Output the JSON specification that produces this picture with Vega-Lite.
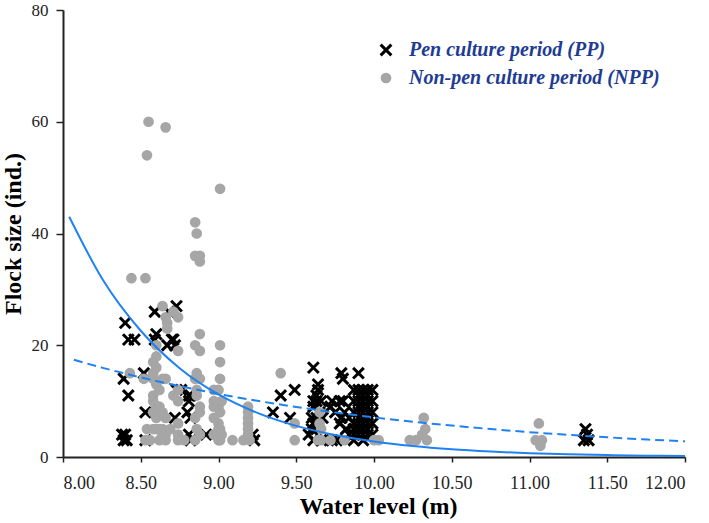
{
  "$schema": "https://vega.github.io/schema/vega-lite/v6.json",
  "width": 622,
  "height": 447,
  "autosize": {"type": "none"},
  "padding": {"left": 63, "top": 10, "right": 24, "bottom": 66},
  "background": "white",
  "config": {
    "view": {"stroke": null},
    "font": "Liberation Serif",
    "axis": {
      "labelFont": "Liberation Serif",
      "titleFont": "Liberation Serif",
      "labelColor": "#222222",
      "titleColor": "#000000",
      "domainColor": "#222222",
      "tickColor": "#222222",
      "grid": false
    },
    "legend": {
      "orient": "none", "legendX": 313, "legendY": 30, "title": null, "padding": 0,
      "labelFont": "Liberation Serif", "labelFontSize": 20, "labelFontWeight": "bold",
      "labelFontStyle": "italic", "labelColor": "#1e3c94", "labelLimit": 400,
      "symbolSize": 115, "symbolStrokeWidth": 3, "rowPadding": 4, "labelOffset": 13
    }
  },
  "datasets": {
    "flocks": [
      {"level": 8.40, "flock": 24, "period": "PP"},
      {"level": 8.42, "flock": 21, "period": "PP"},
      {"level": 8.46, "flock": 21, "period": "PP"},
      {"level": 8.39, "flock": 14, "period": "PP"},
      {"level": 8.52, "flock": 15, "period": "PP"},
      {"level": 8.42, "flock": 11, "period": "PP"},
      {"level": 8.53, "flock": 8, "period": "PP"},
      {"level": 8.38, "flock": 4, "period": "PP"},
      {"level": 8.40, "flock": 4, "period": "PP"},
      {"level": 8.39, "flock": 3, "period": "PP"},
      {"level": 8.41, "flock": 3, "period": "PP"},
      {"level": 8.53, "flock": 3, "period": "PP"},
      {"level": 8.59, "flock": 26, "period": "PP"},
      {"level": 8.60, "flock": 22, "period": "PP"},
      {"level": 8.59, "flock": 21, "period": "PP"},
      {"level": 8.67, "flock": 20, "period": "PP"},
      {"level": 8.70, "flock": 21, "period": "PP"},
      {"level": 8.71, "flock": 21, "period": "PP"},
      {"level": 8.72, "flock": 20, "period": "PP"},
      {"level": 8.73, "flock": 27, "period": "PP"},
      {"level": 8.68, "flock": 26, "period": "PP"},
      {"level": 8.73, "flock": 12, "period": "PP"},
      {"level": 8.76, "flock": 12, "period": "PP"},
      {"level": 8.72, "flock": 7, "period": "PP"},
      {"level": 8.81, "flock": 11, "period": "PP"},
      {"level": 8.82, "flock": 11, "period": "PP"},
      {"level": 8.81, "flock": 10, "period": "PP"},
      {"level": 8.80, "flock": 8, "period": "PP"},
      {"level": 8.82, "flock": 7, "period": "PP"},
      {"level": 8.81, "flock": 4, "period": "PP"},
      {"level": 8.82, "flock": 3, "period": "PP"},
      {"level": 8.92, "flock": 4, "period": "PP"},
      {"level": 9.22, "flock": 4, "period": "PP"},
      {"level": 9.23, "flock": 3, "period": "PP"},
      {"level": 9.35, "flock": 8, "period": "PP"},
      {"level": 9.40, "flock": 11, "period": "PP"},
      {"level": 9.46, "flock": 7, "period": "PP"},
      {"level": 9.49, "flock": 12, "period": "PP"},
      {"level": 9.61, "flock": 16, "period": "PP"},
      {"level": 9.64, "flock": 13, "period": "PP"},
      {"level": 9.64, "flock": 12, "period": "PP"},
      {"level": 9.63, "flock": 11, "period": "PP"},
      {"level": 9.61, "flock": 10, "period": "PP"},
      {"level": 9.63, "flock": 10, "period": "PP"},
      {"level": 9.66, "flock": 10, "period": "PP"},
      {"level": 9.61, "flock": 9, "period": "PP"},
      {"level": 9.65, "flock": 8, "period": "PP"},
      {"level": 9.60, "flock": 7, "period": "PP"},
      {"level": 9.63, "flock": 7, "period": "PP"},
      {"level": 9.67, "flock": 7, "period": "PP"},
      {"level": 9.61, "flock": 6, "period": "PP"},
      {"level": 9.60, "flock": 5, "period": "PP"},
      {"level": 9.63, "flock": 5, "period": "PP"},
      {"level": 9.58, "flock": 4, "period": "PP"},
      {"level": 9.61, "flock": 3, "period": "PP"},
      {"level": 9.66, "flock": 3, "period": "PP"},
      {"level": 9.73, "flock": 10, "period": "PP"},
      {"level": 9.72, "flock": 9, "period": "PP"},
      {"level": 9.75, "flock": 8, "period": "PP"},
      {"level": 9.73, "flock": 3, "period": "PP"},
      {"level": 9.76, "flock": 3, "period": "PP"},
      {"level": 9.79, "flock": 15, "period": "PP"},
      {"level": 9.80, "flock": 14, "period": "PP"},
      {"level": 9.78, "flock": 10, "period": "PP"},
      {"level": 9.80, "flock": 10, "period": "PP"},
      {"level": 9.81, "flock": 8, "period": "PP"},
      {"level": 9.79, "flock": 7, "period": "PP"},
      {"level": 9.78, "flock": 6, "period": "PP"},
      {"level": 9.82, "flock": 5, "period": "PP"},
      {"level": 9.84, "flock": 7, "period": "PP"},
      {"level": 9.84, "flock": 4, "period": "PP"},
      {"level": 9.87, "flock": 12, "period": "PP"},
      {"level": 9.87, "flock": 10, "period": "PP"},
      {"level": 9.87, "flock": 8, "period": "PP"},
      {"level": 9.87, "flock": 6, "period": "PP"},
      {"level": 9.87, "flock": 5, "period": "PP"},
      {"level": 9.87, "flock": 4, "period": "PP"},
      {"level": 9.87, "flock": 3, "period": "PP"},
      {"level": 9.90, "flock": 15, "period": "PP"},
      {"level": 9.90, "flock": 12, "period": "PP"},
      {"level": 9.90, "flock": 11, "period": "PP"},
      {"level": 9.90, "flock": 10, "period": "PP"},
      {"level": 9.90, "flock": 9, "period": "PP"},
      {"level": 9.90, "flock": 8, "period": "PP"},
      {"level": 9.90, "flock": 7, "period": "PP"},
      {"level": 9.90, "flock": 6, "period": "PP"},
      {"level": 9.90, "flock": 5, "period": "PP"},
      {"level": 9.90, "flock": 4, "period": "PP"},
      {"level": 9.93, "flock": 12, "period": "PP"},
      {"level": 9.93, "flock": 11, "period": "PP"},
      {"level": 9.93, "flock": 10, "period": "PP"},
      {"level": 9.93, "flock": 9, "period": "PP"},
      {"level": 9.93, "flock": 8, "period": "PP"},
      {"level": 9.93, "flock": 7, "period": "PP"},
      {"level": 9.93, "flock": 6, "period": "PP"},
      {"level": 9.93, "flock": 5, "period": "PP"},
      {"level": 9.93, "flock": 4, "period": "PP"},
      {"level": 9.93, "flock": 3, "period": "PP"},
      {"level": 9.96, "flock": 12, "period": "PP"},
      {"level": 9.96, "flock": 11, "period": "PP"},
      {"level": 9.96, "flock": 10, "period": "PP"},
      {"level": 9.96, "flock": 9, "period": "PP"},
      {"level": 9.96, "flock": 8, "period": "PP"},
      {"level": 9.96, "flock": 7, "period": "PP"},
      {"level": 9.96, "flock": 6, "period": "PP"},
      {"level": 9.96, "flock": 5, "period": "PP"},
      {"level": 9.96, "flock": 4, "period": "PP"},
      {"level": 9.99, "flock": 12, "period": "PP"},
      {"level": 9.99, "flock": 10, "period": "PP"},
      {"level": 9.99, "flock": 8, "period": "PP"},
      {"level": 9.99, "flock": 6, "period": "PP"},
      {"level": 9.99, "flock": 4, "period": "PP"},
      {"level": 11.35, "flock": 3, "period": "PP"},
      {"level": 11.38, "flock": 3, "period": "PP"},
      {"level": 11.37, "flock": 4, "period": "PP"},
      {"level": 11.36, "flock": 5, "period": "PP"},

      {"level": 8.55, "flock": 60, "period": "NPP"},
      {"level": 8.66, "flock": 59, "period": "NPP"},
      {"level": 8.54, "flock": 54, "period": "NPP"},
      {"level": 9.01, "flock": 48, "period": "NPP"},
      {"level": 8.85, "flock": 42, "period": "NPP"},
      {"level": 8.86, "flock": 40, "period": "NPP"},
      {"level": 8.85, "flock": 36, "period": "NPP"},
      {"level": 8.88, "flock": 36, "period": "NPP"},
      {"level": 8.88, "flock": 35, "period": "NPP"},
      {"level": 8.44, "flock": 32, "period": "NPP"},
      {"level": 8.53, "flock": 32, "period": "NPP"},
      {"level": 8.43, "flock": 15, "period": "NPP"},
      {"level": 8.52, "flock": 14, "period": "NPP"},
      {"level": 8.53, "flock": 3, "period": "NPP"},
      {"level": 8.54, "flock": 5, "period": "NPP"},
      {"level": 8.56, "flock": 3, "period": "NPP"},
      {"level": 8.58, "flock": 17, "period": "NPP"},
      {"level": 8.58, "flock": 15, "period": "NPP"},
      {"level": 8.58, "flock": 14, "period": "NPP"},
      {"level": 8.58, "flock": 11, "period": "NPP"},
      {"level": 8.58, "flock": 10, "period": "NPP"},
      {"level": 8.58, "flock": 8, "period": "NPP"},
      {"level": 8.58, "flock": 5, "period": "NPP"},
      {"level": 8.60, "flock": 20, "period": "NPP"},
      {"level": 8.60, "flock": 18, "period": "NPP"},
      {"level": 8.60, "flock": 16, "period": "NPP"},
      {"level": 8.60, "flock": 13, "period": "NPP"},
      {"level": 8.60, "flock": 9, "period": "NPP"},
      {"level": 8.60, "flock": 7, "period": "NPP"},
      {"level": 8.60, "flock": 5, "period": "NPP"},
      {"level": 8.62, "flock": 12, "period": "NPP"},
      {"level": 8.62, "flock": 9, "period": "NPP"},
      {"level": 8.62, "flock": 5, "period": "NPP"},
      {"level": 8.62, "flock": 3, "period": "NPP"},
      {"level": 8.64, "flock": 27, "period": "NPP"},
      {"level": 8.64, "flock": 14, "period": "NPP"},
      {"level": 8.64, "flock": 8, "period": "NPP"},
      {"level": 8.64, "flock": 5, "period": "NPP"},
      {"level": 8.64, "flock": 4, "period": "NPP"},
      {"level": 8.66, "flock": 25, "period": "NPP"},
      {"level": 8.66, "flock": 14, "period": "NPP"},
      {"level": 8.66, "flock": 7, "period": "NPP"},
      {"level": 8.66, "flock": 4, "period": "NPP"},
      {"level": 8.66, "flock": 3, "period": "NPP"},
      {"level": 8.67, "flock": 24, "period": "NPP"},
      {"level": 8.67, "flock": 23, "period": "NPP"},
      {"level": 8.69, "flock": 5, "period": "NPP"},
      {"level": 8.71, "flock": 26, "period": "NPP"},
      {"level": 8.71, "flock": 11, "period": "NPP"},
      {"level": 8.74, "flock": 25, "period": "NPP"},
      {"level": 8.74, "flock": 19, "period": "NPP"},
      {"level": 8.74, "flock": 12, "period": "NPP"},
      {"level": 8.74, "flock": 10, "period": "NPP"},
      {"level": 8.74, "flock": 6, "period": "NPP"},
      {"level": 8.74, "flock": 4, "period": "NPP"},
      {"level": 8.74, "flock": 3, "period": "NPP"},
      {"level": 8.78, "flock": 3, "period": "NPP"},
      {"level": 8.85, "flock": 20, "period": "NPP"},
      {"level": 8.85, "flock": 14, "period": "NPP"},
      {"level": 8.85, "flock": 7, "period": "NPP"},
      {"level": 8.85, "flock": 3, "period": "NPP"},
      {"level": 8.86, "flock": 15, "period": "NPP"},
      {"level": 8.86, "flock": 12, "period": "NPP"},
      {"level": 8.86, "flock": 11, "period": "NPP"},
      {"level": 8.86, "flock": 5, "period": "NPP"},
      {"level": 8.88, "flock": 22, "period": "NPP"},
      {"level": 8.88, "flock": 19, "period": "NPP"},
      {"level": 8.88, "flock": 14, "period": "NPP"},
      {"level": 8.88, "flock": 9, "period": "NPP"},
      {"level": 8.88, "flock": 8, "period": "NPP"},
      {"level": 8.88, "flock": 4, "period": "NPP"},
      {"level": 8.97, "flock": 12, "period": "NPP"},
      {"level": 8.97, "flock": 10, "period": "NPP"},
      {"level": 8.97, "flock": 9, "period": "NPP"},
      {"level": 8.97, "flock": 7, "period": "NPP"},
      {"level": 8.97, "flock": 4, "period": "NPP"},
      {"level": 9.00, "flock": 12, "period": "NPP"},
      {"level": 9.00, "flock": 9, "period": "NPP"},
      {"level": 9.00, "flock": 6, "period": "NPP"},
      {"level": 9.00, "flock": 5, "period": "NPP"},
      {"level": 9.00, "flock": 3, "period": "NPP"},
      {"level": 9.01, "flock": 20, "period": "NPP"},
      {"level": 9.01, "flock": 17, "period": "NPP"},
      {"level": 9.01, "flock": 14, "period": "NPP"},
      {"level": 9.01, "flock": 8, "period": "NPP"},
      {"level": 9.01, "flock": 5, "period": "NPP"},
      {"level": 9.01, "flock": 3, "period": "NPP"},
      {"level": 9.02, "flock": 10, "period": "NPP"},
      {"level": 9.02, "flock": 4, "period": "NPP"},
      {"level": 9.09, "flock": 3, "period": "NPP"},
      {"level": 9.16, "flock": 3, "period": "NPP"},
      {"level": 9.19, "flock": 9, "period": "NPP"},
      {"level": 9.19, "flock": 8, "period": "NPP"},
      {"level": 9.19, "flock": 7, "period": "NPP"},
      {"level": 9.19, "flock": 6, "period": "NPP"},
      {"level": 9.19, "flock": 5, "period": "NPP"},
      {"level": 9.19, "flock": 4, "period": "NPP"},
      {"level": 9.20, "flock": 3, "period": "NPP"},
      {"level": 9.40, "flock": 15, "period": "NPP"},
      {"level": 9.49, "flock": 6, "period": "NPP"},
      {"level": 9.49, "flock": 3, "period": "NPP"},
      {"level": 9.65, "flock": 8, "period": "NPP"},
      {"level": 9.65, "flock": 6, "period": "NPP"},
      {"level": 9.66, "flock": 5, "period": "NPP"},
      {"level": 9.66, "flock": 3, "period": "NPP"},
      {"level": 9.64, "flock": 3, "period": "NPP"},
      {"level": 9.72, "flock": 3, "period": "NPP"},
      {"level": 9.81, "flock": 3, "period": "NPP"},
      {"level": 10.00, "flock": 3, "period": "NPP"},
      {"level": 10.03, "flock": 3, "period": "NPP"},
      {"level": 10.23, "flock": 3, "period": "NPP"},
      {"level": 10.27, "flock": 3, "period": "NPP"},
      {"level": 10.32, "flock": 7, "period": "NPP"},
      {"level": 10.33, "flock": 5, "period": "NPP"},
      {"level": 10.31, "flock": 4, "period": "NPP"},
      {"level": 10.34, "flock": 3, "period": "NPP"},
      {"level": 11.04, "flock": 3, "period": "NPP"},
      {"level": 11.06, "flock": 6, "period": "NPP"},
      {"level": 11.08, "flock": 3, "period": "NPP"},
      {"level": 11.07, "flock": 2, "period": "NPP"}
    ],
    "curve_solid": [
      {"level": 8.04, "flock": 43.0},
      {"level": 8.25, "flock": 32.0},
      {"level": 8.50, "flock": 22.6},
      {"level": 8.75, "flock": 15.9},
      {"level": 9.00, "flock": 11.2},
      {"level": 9.25, "flock": 7.9},
      {"level": 9.50, "flock": 5.57},
      {"level": 9.75, "flock": 3.93},
      {"level": 10.00, "flock": 2.77},
      {"level": 10.25, "flock": 1.95},
      {"level": 10.50, "flock": 1.37},
      {"level": 10.75, "flock": 0.97},
      {"level": 11.00, "flock": 0.68},
      {"level": 11.25, "flock": 0.48},
      {"level": 11.50, "flock": 0.34},
      {"level": 11.75, "flock": 0.24},
      {"level": 12.00, "flock": 0.17}
    ],
    "curve_dashed": [
      {"level": 8.07, "flock": 17.4},
      {"level": 8.25, "flock": 16.0},
      {"level": 8.50, "flock": 14.25},
      {"level": 8.75, "flock": 12.69},
      {"level": 9.00, "flock": 11.29},
      {"level": 9.25, "flock": 10.05},
      {"level": 9.50, "flock": 8.95},
      {"level": 9.75, "flock": 7.97},
      {"level": 10.00, "flock": 7.09},
      {"level": 10.25, "flock": 6.31},
      {"level": 10.50, "flock": 5.62},
      {"level": 10.75, "flock": 5.0},
      {"level": 11.00, "flock": 4.45},
      {"level": 11.25, "flock": 3.97},
      {"level": 11.50, "flock": 3.53},
      {"level": 11.75, "flock": 3.14},
      {"level": 12.00, "flock": 2.8}
    ]
  },
  "layer": [
    {
      "data": {"name": "flocks"},
      "mark": {"type": "point", "filled": true, "size": 115, "strokeWidth": 3, "opacity": 1},
      "encoding": {
        "x": {
          "field": "level", "type": "quantitative",
          "scale": {"domain": [8, 12], "nice": false, "zero": false},
          "axis": {
            "values": [8, 8.25, 8.5, 8.75, 9, 9.25, 9.5, 9.75, 10, 10.25, 10.5, 10.75, 11, 11.25, 11.5, 11.75, 12],
            "labelExpr": "datum.value % 0.5 == 0 ? format(datum.value, '.2f') : ''",
            "labelFontSize": 18,
            "tickSize": 5,
            "tickWidth": 1.5,
            "labelPadding": 12,
            "domainWidth": 2,
            "title": "Water level (m)",
            "titleFontSize": 24,
            "titleFontWeight": "bold",
            "titlePadding": 2,
            "titleX": 315,
            "encode": {
              "ticks": {
                "update": {
                  "y2": {"signal": "datum.value % 0.5 == 0 ? 5 : -5"}
                }
              }
            }
          }
        },
        "y": {
          "field": "flock", "type": "quantitative",
          "scale": {"domain": [0, 80], "nice": false},
          "axis": {
            "values": [0, 20, 40, 60, 80],
            "labelFontSize": 17,
            "tickSize": 7,
            "tickWidth": 1.5,
            "labelPadding": 8,
            "domainWidth": 2,
            "title": "Flock size (ind.)",
            "titleFontSize": 24,
            "titleFontWeight": "bold",
            "titlePadding": 6
          }
        },
        "color": {
          "field": "period", "type": "nominal",
          "scale": {"domain": ["PP", "NPP"], "range": ["#000000", "#a6a6a6"]},
          "legend": {
            "labelExpr": "datum.label == 'PP' ? 'Pen culture period (PP)' : 'Non-pen culture period (NPP)'"
          }
        },
        "stroke": {
          "field": "period", "type": "nominal",
          "scale": {"domain": ["PP", "NPP"], "range": ["#000000", "transparent"]},
          "legend": {
            "labelExpr": "datum.label == 'PP' ? 'Pen culture period (PP)' : 'Non-pen culture period (NPP)'"
          }
        },
        "shape": {
          "field": "period", "type": "nominal",
          "scale": {"domain": ["PP", "NPP"], "range": ["M-1,-1L1,1M1,-1L-1,1", "circle"]},
          "legend": {
            "labelExpr": "datum.label == 'PP' ? 'Pen culture period (PP)' : 'Non-pen culture period (NPP)'"
          }
        }
      }
    },
    {
      "data": {"name": "curve_solid"},
      "mark": {"type": "line", "color": "#1f82f0", "strokeWidth": 2, "interpolate": "monotone"},
      "encoding": {
        "x": {"field": "level", "type": "quantitative"},
        "y": {"field": "flock", "type": "quantitative"}
      }
    },
    {
      "data": {"name": "curve_dashed"},
      "mark": {"type": "line", "color": "#1f82f0", "strokeWidth": 2, "strokeDash": [9, 5], "interpolate": "monotone"},
      "encoding": {
        "x": {"field": "level", "type": "quantitative"},
        "y": {"field": "flock", "type": "quantitative"}
      }
    }
  ]
}
